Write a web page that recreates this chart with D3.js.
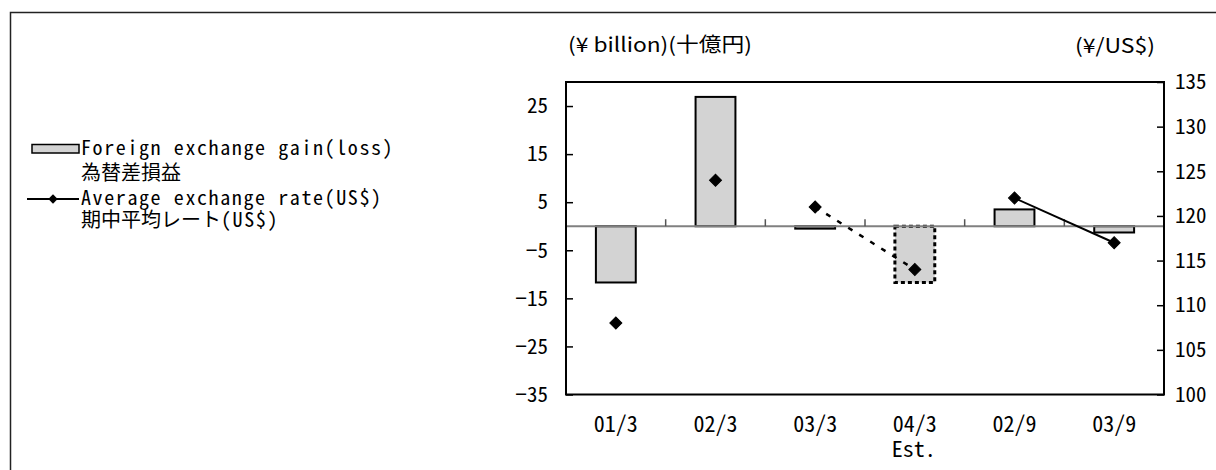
<!DOCTYPE html>
<html><head><meta charset="utf-8">
<script src="https://cdn.jsdelivr.net/npm/d3@7"></script>
<style>
html,body{margin:0;padding:0;background:#fff;}
svg{display:block;}
.hw{font-family:"Noto Sans CJK JP";font-feature-settings:"hwid" 1;}
.jp{font-family:"Noto Sans CJK JP";}
</style>
</head><body>
<svg id="chart" width="1216" height="470"></svg>
<script>
const categories = ["01/3","02/3","03/3","04/3","02/9","03/9"];
const categorySub = ["","","","Est.","",""];
const fxGain = [-11.7, 26.9, -0.5, -11.7, 3.5, -1.3];       // ¥ billion
const avgRate = [108, 124, 121, 114, 122, 117];              // ¥/US$
const estimateBars = ["04/3"];
const dashedLink = ["03/3","04/3"];
const solidLink = ["02/9","03/9"];
const leftTicks = [-35,-25,-15,-5,5,15,25];
const rightTicks = [100,105,110,115,120,125,130,135];

const svg = d3.select("#chart");
const L = 566, R = 1164, T = 82, B = 394.5;

// outer frame
svg.append("rect").attr("x",10.5).attr("y",12.5).attr("width",1400).attr("height",700)
  .attr("fill","none").attr("stroke","#222").attr("stroke-width",1.5);

const x = d3.scaleBand().domain(categories).range([L,R]).paddingInner(0).paddingOuter(0);
const yL = d3.scaleLinear().domain([-35,30]).range([B,T]);
const yR = d3.scaleLinear().domain([100,135]).range([B,T]);
const bw = x.bandwidth()*0.4;

// bars
const data = categories.map((c,i)=>({c, v:fxGain[i], r:avgRate[i], est: estimateBars.includes(c)}));
svg.append("g").selectAll("rect").data(data).join("rect")
  .attr("x", d=>x(d.c)+x.bandwidth()/2-bw/2)
  .attr("y", d=>yL(Math.max(0,d.v)))
  .attr("width", bw)
  .attr("height", d=>Math.abs(yL(d.v)-yL(0)))
  .attr("fill","#d3d3d3")
  .attr("stroke","#000")
  .attr("stroke-width", d=>d.est?3:2)
  .attr("stroke-dasharray", d=>d.est?"4,3":null);

// zero line
svg.append("line").attr("x1",L).attr("x2",R).attr("y1",yL(0)).attr("y2",yL(0))
  .attr("stroke","#808080").attr("stroke-width",2);
// category tick marks on zero line
svg.append("g").selectAll("line").data(categories.slice(1)).join("line")
  .attr("x1",d=>x(d)).attr("x2",d=>x(d)).attr("y1",yL(0)).attr("y2",yL(0)-7)
  .attr("stroke","#555").attr("stroke-width",1.5);

// lines
const cx = c => x(c)+x.bandwidth()/2;
const rateOf = c => avgRate[categories.indexOf(c)];
const line = d3.line().x(d=>cx(d)).y(d=>yR(rateOf(d)));
svg.append("path").attr("d",line(dashedLink)).attr("fill","none").attr("stroke","#000")
  .attr("stroke-width",2.5).attr("stroke-dasharray","5,8");
svg.append("path").attr("d",line(solidLink)).attr("fill","none").attr("stroke","#000")
  .attr("stroke-width",2);

// markers
const diamond = d3.symbol().type(d3.symbolSquare).size(72);
svg.append("g").selectAll("path").data(data).join("path")
  .attr("d",diamond)
  .attr("transform",d=>`translate(${cx(d.c)},${yR(d.r)}) rotate(45)`)
  .attr("fill","#000").attr("stroke","#000").attr("stroke-width",1);

// plot frame
svg.append("rect").attr("x",L).attr("y",T).attr("width",R-L).attr("height",B-T)
  .attr("fill","none").attr("stroke","#000").attr("stroke-width",2);

// left axis
const ga = svg.append("g").attr("transform",`translate(${L},0)`)
  .call(d3.axisLeft(yL).tickValues(leftTicks).tickSizeInner(-7).tickSizeOuter(0).tickPadding(18).tickFormat(d3.format("d")));
ga.select(".domain").remove();
ga.selectAll("line").attr("stroke","#000").attr("stroke-width",1.5);
ga.selectAll("text").attr("class","hw").attr("font-size",21).attr("fill","#000");

// right axis
const gr = svg.append("g").attr("transform",`translate(${R},0)`)
  .call(d3.axisRight(yR).tickValues(rightTicks).tickSizeInner(-7).tickSizeOuter(0).tickPadding(11).tickFormat(d3.format("d")));
gr.select(".domain").remove();
gr.selectAll("line").attr("stroke","#000").attr("stroke-width",1.5);
gr.selectAll("text").attr("class","hw").attr("font-size",21).attr("fill","#000");

// x labels
const xl = svg.append("g");
xl.selectAll("text.c").data(categories).join("text").attr("class","hw")
  .attr("x",d=>cx(d)).attr("y",424).attr("dy","0.35em").attr("text-anchor","middle")
  .attr("font-size",22).text(d=>d);
xl.selectAll("text.s").data(categories.map((c,i)=>({c,s:categorySub[i]}))).join("text").attr("class","hw")
  .attr("x",d=>cx(d.c)-23).attr("y",449).attr("dy","0.35em").attr("text-anchor","start")
  .attr("font-size",22).text(d=>d.s);

// titles
svg.append("text").attr("class","jp").attr("x",568).attr("y",45).attr("dy","0.35em")
  .attr("font-size",20).attr("textLength",184).attr("lengthAdjust","spacingAndGlyphs")
  .text("(¥ billion)(十億円)");
svg.append("text").attr("class","jp").attr("x",1075).attr("y",46).attr("dy","0.35em")
  .attr("font-size",20).attr("textLength",80).attr("lengthAdjust","spacingAndGlyphs")
  .text("(¥/US$)");

// legend
svg.append("rect").attr("x",32).attr("y",144.5).attr("width",47).attr("height",8.5)
  .attr("fill","#d3d3d3").attr("stroke","#000").attr("stroke-width",1.5);
svg.append("line").attr("x1",27).attr("x2",79).attr("y1",199).attr("y2",199)
  .attr("stroke","#000").attr("stroke-width",2);
svg.append("path").attr("d",d3.symbol().type(d3.symbolSquare).size(44))
  .attr("transform","translate(53,199) rotate(45)").attr("fill","#000");

const legendLines = [
  {y:149, parts:[{t:"Foreign exchange gain(loss)",c:"hw",s:20,ls:1.6}]},
  {y:174, parts:[{t:"為替差損益",c:"jp",s:20,ls:0}]},
  {y:199, parts:[{t:"Average exchange rate(US$)",c:"hw",s:20,ls:1.6}]},
  {y:221, parts:[{t:"期中平均レート",c:"jp",s:20,ls:0},{t:"(US$)",c:"hw",s:20,ls:1.6}]}
];
legendLines.forEach(l=>{
  const t = svg.append("text").attr("x",81).attr("y",l.y).attr("dy","0.35em");
  l.parts.forEach(p=>t.append("tspan").attr("class",p.c).attr("font-size",p.s)
    .attr("letter-spacing",p.ls).text(p.t));
});
</script>
</body></html>
